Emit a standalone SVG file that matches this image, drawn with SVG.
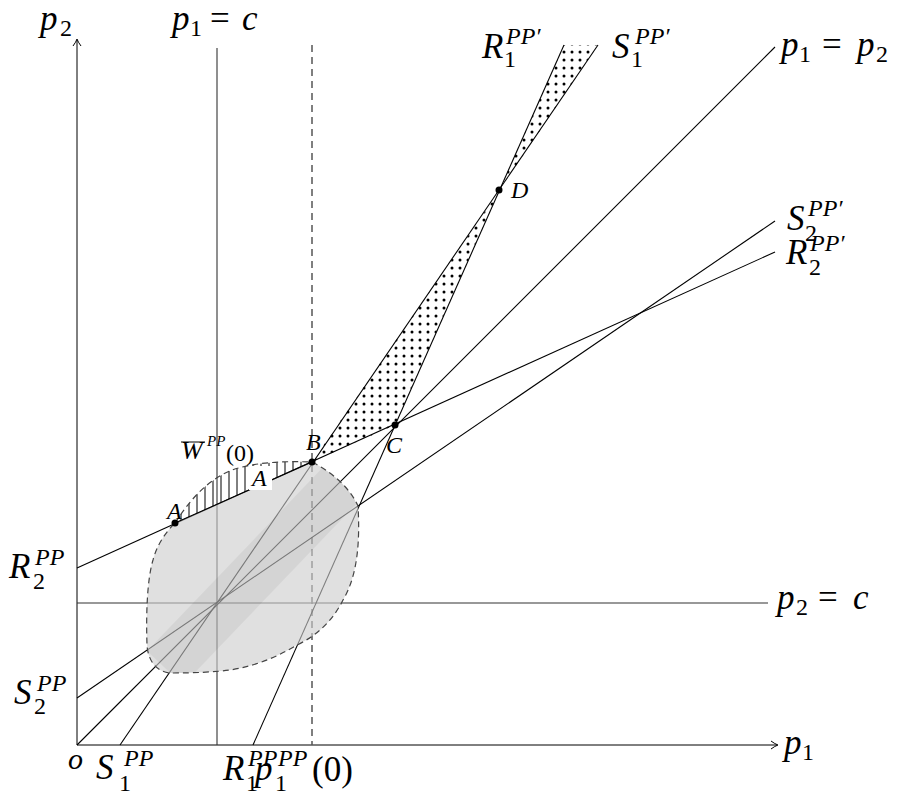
<svg xmlns="http://www.w3.org/2000/svg" width="897" height="797" viewBox="0 0 897 797">
<style>
text{font-family:"Liberation Serif","DejaVu Serif",serif;font-style:italic;fill:#000}
.m{font-size:35px}
.s{font-size:24px}
.u{font-style:normal}
.pl{font-size:24px}
.ln{stroke:#000;stroke-width:1.1;fill:none}
.ref{stroke:#333;stroke-width:1.1;fill:none}
.dash{stroke:#555;stroke-width:1.5;stroke-dasharray:7 5;fill:none}
.blob{stroke:#444;stroke-width:1.2;stroke-dasharray:6 4;fill:none}
.ax{stroke:#000;stroke-width:1;fill:none}
</style>
<defs>
<pattern id="dots" patternUnits="userSpaceOnUse" width="8" height="8">
<circle cx="4" cy="4" r="1.5" fill="#000"/>
</pattern>
<pattern id="hatch" patternUnits="userSpaceOnUse" width="8" height="10" x="1">
<line x1="4" y1="0" x2="4" y2="10" stroke="#000" stroke-width="1"/>
</pattern>
<path id="grayreg" d="M175,523 L312,462 C332,472 350,488 358,506 C360,540 358,575 343,600 C333,620 318,635 297,645 C275,658 255,666 230,670 C215,672 195,673 172,673 C158,673 148,662 147,645 C146,615 147,580 153,560 C157,545 165,533 175,523 Z"/>
<clipPath id="gclip"><use href="#grayreg"/></clipPath>
</defs>
<rect width="897" height="797" fill="#fff"/>

<g id="dotted-region">
<path d="M312,462 L395,425 L499,191 Z M499,191 L564,45 L598,45 Z" fill="url(#dots)"/>
</g>

<g id="axes">
<line class="ax" x1="77" y1="745" x2="777" y2="745"/>
<path class="ax" d="M771,741 Q775,744 778,745 Q775,746 771,749"/>
<line class="ax" x1="77" y1="745" x2="77" y2="40"/>
<path class="ax" d="M73,46 Q76,42 77,39 Q78,42 81,46"/>
<line class="ref" x1="217" y1="48" x2="217" y2="745"/>
<line class="ref" x1="77" y1="603" x2="768" y2="603"/>
<line class="dash" x1="312" y1="45" x2="312" y2="745"/>
</g>

<g id="connectors">
<line id="R2" class="ln" x1="77" y1="568" x2="775" y2="252"/>
<line id="S2" class="ln" x1="77" y1="698" x2="775" y2="221"/>
<line id="diag" class="ln" x1="77" y1="745" x2="775" y2="47"/>
<line id="S1" class="ln" x1="120" y1="745" x2="598" y2="45"/>
<line id="R1" class="ln" x1="253" y1="745" x2="564" y2="45"/>
</g>

<g id="region-W">
<use href="#grayreg" fill="#cdcdcd" fill-opacity="0.62"/>
<polygon points="147,651 327,463 363,497 183,685" fill="#000" fill-opacity="0.05" clip-path="url(#gclip)"/>
<path d="M175,523 L312,462 C285,461 255,462 232,470 C205,481 188,503 175,523 Z" fill="url(#hatch)"/>
<line class="ln" x1="175" y1="523" x2="312" y2="462"/>
<path class="blob" d="M175,523 C188,503 205,481 232,470 C255,462 285,461 312,462 C332,472 350,488 358,506 C360,540 358,575 343,600 C333,620 318,635 297,645 C275,658 255,666 230,670 C215,672 195,673 172,673 C158,673 148,662 147,645 C146,615 147,580 153,560 C157,545 165,533 175,523 Z"/>
<rect x="249" y="466" width="23" height="24" fill="#fff"/>
<text class="pl" x="252" y="486">A</text>
</g>

<g id="point-A"><circle cx="175" cy="523" r="3.5"/><text class="pl" x="167" y="519">A</text></g>
<g id="point-B"><circle cx="312" cy="462" r="3.5"/><text class="pl" x="306" y="450">B</text></g>
<g id="point-C"><circle cx="395" cy="425" r="3.5"/><text class="pl" x="386" y="453">C</text></g>
<g id="point-D"><circle cx="499" cy="190" r="3.5"/><text class="pl" x="511" y="198">D</text></g>

<g id="labels">
<text class="m" x="40" y="30">p</text><text class="s u" x="60" y="36">2</text>
<text class="m" x="172" y="30">p</text><text class="s u" x="190" y="36">1</text><text class="m u" x="210" y="30">=</text><text class="m" x="242" y="30">c</text>

<text class="m" x="482" y="58">R</text><text class="s" x="506" y="44">PP′</text><text class="s u" x="504" y="67">1</text>
<text class="m" x="612" y="58">S</text><text class="s" x="635" y="44">PP′</text><text class="s u" x="631" y="67">1</text>

<text class="m" x="781" y="56">p</text><text class="s u" x="799" y="62">1</text><text class="m u" x="822" y="56">=</text><text class="m" x="857" y="56">p</text><text class="s u" x="876" y="62">2</text>

<text class="m" x="787" y="230">S</text><text class="s" x="808" y="216">PP′</text><text class="s u" x="805" y="241">2</text>
<text class="m" x="786" y="264">R</text><text class="s" x="810" y="251">PP′</text><text class="s u" x="809" y="275">2</text>

<text class="m" x="777" y="609">p</text><text class="s u" x="796" y="615">2</text><text class="m u" x="818" y="609">=</text><text class="m" x="853" y="609">c</text>

<text class="m" x="784" y="754">p</text><text class="s u" x="802" y="760">1</text>

<text class="m" x="9" y="578">R</text><text class="s" x="35" y="565">PP</text><text class="s u" x="33" y="589">2</text>
<text class="m" x="14" y="704">S</text><text class="s" x="37" y="691">PP</text><text class="s u" x="34" y="714">2</text>

<text style="font-size:30px" x="68" y="769">o</text>
<text class="m" x="96" y="779">S</text><text class="s" x="124" y="766">PP</text><text class="s u" x="119" y="791">1</text>
<text class="m" x="223" y="780">R</text><text class="s" x="248" y="766">PP</text><text class="s u" x="246" y="791">1</text>
<text class="m" x="255" y="780">p</text><text class="s" x="278" y="766">PP</text><text class="s u" x="275" y="791">1</text><text class="m u" x="312" y="781">(0)</text>

<text style="font-size:26px" x="181" y="459">W</text>
<line x1="181" y1="442" x2="205" y2="442" stroke="#000" stroke-width="1"/>
<text style="font-size:15px" x="207" y="446">PP</text>
<text class="pl u" x="226" y="461">(0)</text>
</g>
</svg>
